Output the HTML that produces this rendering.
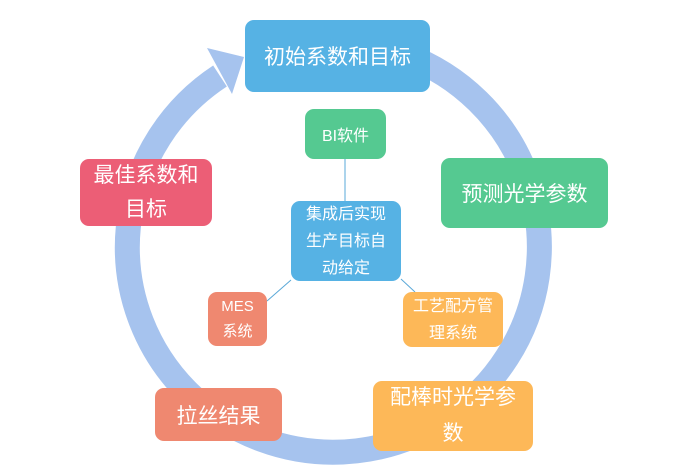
<!DOCTYPE html>
<html><head><meta charset="utf-8"><style>
body{margin:0;background:#fff;width:688px;height:471px;overflow:hidden;position:relative;font-family:"Liberation Sans","Noto Sans CJK SC",sans-serif}
.b{position:absolute;color:#fff;display:flex;align-items:center;justify-content:center;text-align:center;border-radius:9px;box-sizing:border-box}
</style></head><body>
<svg width="688" height="471" style="position:absolute;left:0;top:0">
<path d="M220,76 A206 205 0 1 0 405,55" fill="none" stroke="#a6c3ee" stroke-width="25"/>
<polygon points="207,48 244,57 232,94" fill="#a6c3ee"/>
<line x1="345" y1="159" x2="345" y2="202" stroke="#5aa8d8" stroke-width="1"/>
<line x1="291" y1="280" x2="267" y2="301" stroke="#5aa8d8" stroke-width="1"/>
<line x1="401" y1="279" x2="415" y2="292" stroke="#5aa8d8" stroke-width="1"/>
</svg>
<div class="b" style="left:245px;top:20px;width:185px;height:72px;background:#56b2e4;font-size:21px">初始系数和目标</div>
<div class="b" style="left:305px;top:109px;width:81px;height:50px;background:#55c991;font-size:16px">BI软件</div>
<div class="b" style="left:441px;top:158px;width:167px;height:70px;background:#55c991;font-size:21px">预测光学参数</div>
<div class="b" style="left:80px;top:159px;width:132px;height:67px;background:#ec5e76;font-size:21px;line-height:34px;padding:0 8px">最佳系数和目标</div>
<div class="b" style="left:291px;top:201px;width:110px;height:80px;background:#56b2e4;font-size:16px;line-height:27px;padding:0 10px">集成后实现生产目标自动给定</div>
<div class="b" style="left:208px;top:292px;width:59px;height:54px;background:#ef8870;font-size:15px;line-height:25px;padding:0 6px">MES系统</div>
<div class="b" style="left:403px;top:292px;width:100px;height:55px;background:#fdb858;font-size:16px;line-height:27px;padding:0 6px">工艺配方管理系统</div>
<div class="b" style="left:155px;top:388px;width:127px;height:53px;background:#ef8870;font-size:21px">拉丝结果</div>
<div class="b" style="left:373px;top:381px;width:160px;height:70px;background:#fdb858;font-size:21px;line-height:36px;padding:0 12px">配棒时光学参数</div>
</body></html>
